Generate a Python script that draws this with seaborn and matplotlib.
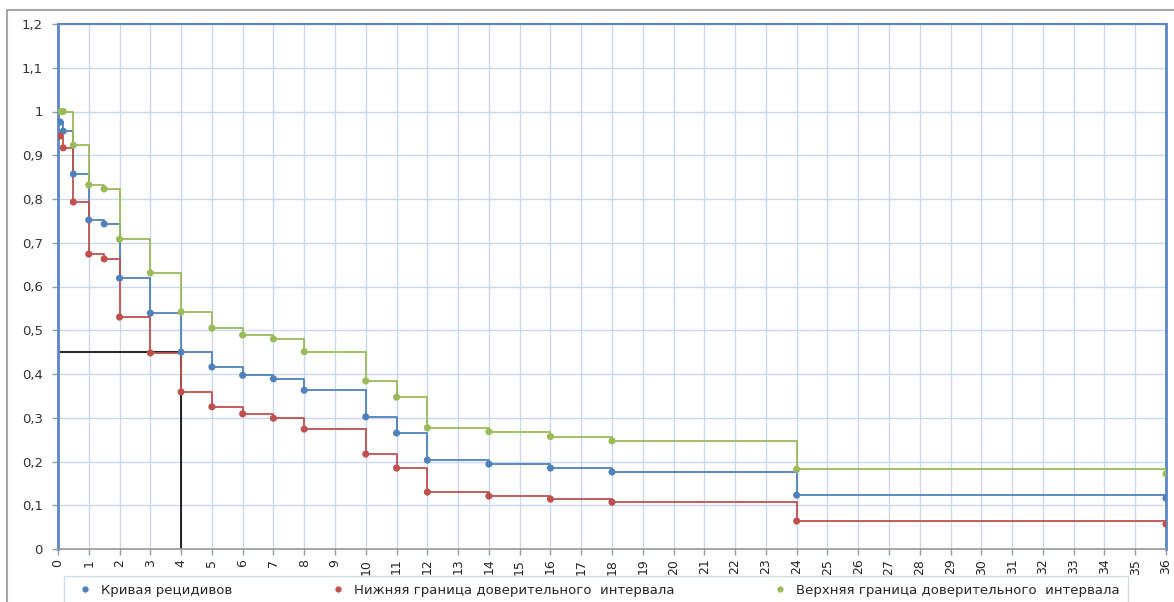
import pandas as pd
import matplotlib
matplotlib.use("Agg")
from matplotlib import pyplot as plt
from matplotlib.patches import Rectangle
from matplotlib.lines import Line2D
import seaborn as sns

# time points (months)
months = [0.07, 0.17, 0.5, 1, 1.5, 2, 3, 4, 5, 6, 7, 8, 10, 11, 12, 14, 16, 18, 24, 36]

curve = [0.976, 0.955, 0.857, 0.752, 0.743, 0.619, 0.539, 0.450, 0.416, 0.397,
         0.389, 0.363, 0.302, 0.265, 0.203, 0.194, 0.185, 0.176, 0.123, 0.116]
lower = [0.944, 0.917, 0.793, 0.674, 0.663, 0.530, 0.448, 0.359, 0.325, 0.309,
         0.299, 0.274, 0.217, 0.185, 0.130, 0.121, 0.114, 0.107, 0.064, 0.057]
upper = [1.0, 1.0, 0.923, 0.832, 0.823, 0.708, 0.631, 0.542, 0.505, 0.489,
         0.480, 0.451, 0.384, 0.347, 0.277, 0.268, 0.257, 0.247, 0.182, 0.172]

names = ["Кривая рецидивов",
         "Нижняя граница доверительного  интервала",
         "Верхняя граница доверительного  интервала"]
colors = ["#4f81bd", "#c0504d", "#9bbb59"]

median_y = 0.45
median_x = 4

df = pd.concat([
    pd.DataFrame({"month": months, "value": vals, "series": name})
    for name, vals in zip(names, [curve, lower, upper])
])

sns.set_style("white")
plt.rcParams["font.family"] = ["DejaVu Sans"]

fig = plt.figure(figsize=(11.74, 6.02), dpi=100)
ax = fig.add_axes([58 / 1174, 1 - 549 / 602, (1166 - 58) / 1174, (549 - 24) / 602])

palette = dict(zip(names, colors))
sns.lineplot(data=df, x="month", y="value", hue="series", palette=palette,
             drawstyle="steps-post", linewidth=1.3, legend=False, ax=ax,
             estimator=None, sort=True, zorder=3)
sns.scatterplot(data=df, x="month", y="value", hue="series", palette=palette,
                s=26, linewidth=0, legend=False, ax=ax, zorder=4)

# median lines
ax.plot([0, median_x], [median_y, median_y], color="black", lw=1.2, zorder=2)
ax.plot([median_x, median_x], [median_y, 0], color="black", lw=1.2, zorder=2)

ax.set_xlim(0, 36)
ax.set_ylim(0, 1.2)
ax.set_xticks(range(0, 37))
ax.set_xticklabels([str(i) for i in range(0, 37)], rotation=90, fontsize=9)
yt = [i / 10 for i in range(0, 13)]
ax.set_yticks(yt)
ax.set_yticklabels([("%.1f" % v).replace(".", ",") if v not in (0, 1) else str(int(v)) for v in yt],
                   fontsize=9.5, color="#333333")
ax.grid(True, color="#c9d8f0", lw=1)
ax.set_axisbelow(True)
ax.set_xlabel("")
ax.set_ylabel("")
ax.tick_params(axis="both", which="both", length=4, width=1, color="#999999",
               direction="out", pad=3, left=True, bottom=True)
ax.tick_params(axis="y", pad=7)

for side in ["left", "right", "top"]:
    ax.spines[side].set_color("#5b87c5")
    ax.spines[side].set_linewidth(2)
ax.spines["top"].set_linewidth(1.5)
ax.spines["bottom"].set_color("#999999")
ax.spines["bottom"].set_linewidth(1.2)

# outer chart frame
fig.patches.append(Rectangle((7 / 1174, -0.1), 1.0, 1 - 10 / 602 + 0.1,
                             transform=fig.transFigure, fill=False,
                             edgecolor="#a6a6a6", lw=1.5))

handles = [Line2D([], [], marker="o", ls="", color=c, markersize=3.5) for c in colors]
leg = fig.legend(handles, names, loc="lower left", ncol=3,
                 bbox_to_anchor=(60 / 1174, -0.012, (1128 - 60) / 1174, 0.06),
                 mode="expand", frameon=True, fancybox=False, fontsize=9.5,
                 handletextpad=0.2, borderpad=0.5, borderaxespad=0.3,
                 columnspacing=3)
leg.get_frame().set_edgecolor("#c5d3e8")
leg.get_frame().set_linewidth(1)
# nudge legend contents inward like the original
leg._legend_box.pad = 6

fig.savefig("out.png", dpi=100)
